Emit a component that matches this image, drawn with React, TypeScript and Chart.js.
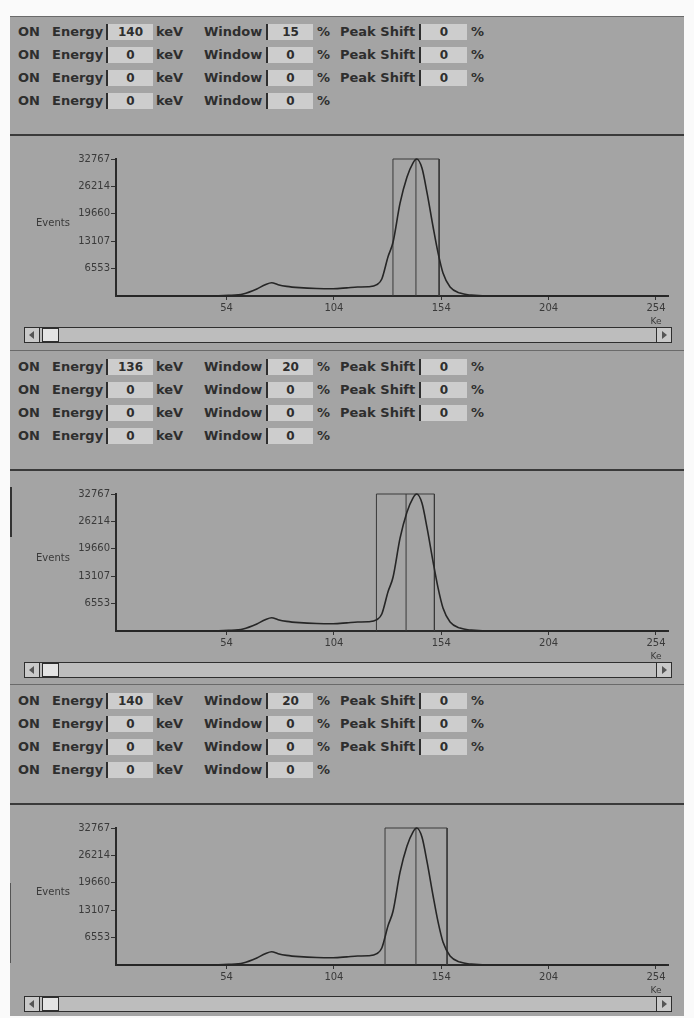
import React, { useEffect, useRef } from "react";
import { Chart, registerables } from "chart.js";
Chart.register(...registerables);

// ---- data ----
const spectrumKeV = [3, 45, 55, 61.7, 68.1, 72, 75, 78, 82, 88, 96, 103.6, 110, 115, 120, 124, 126.3, 129.2, 131.5, 134.8, 138, 140.8, 142.5, 145, 147.4, 150.2, 152.5, 154.8, 158.1, 162.7, 168, 175, 259];
const spectrumCounts = [0, 0, 150, 500, 1680, 2700, 3180, 2700, 2300, 2000, 1800, 1750, 1950, 2150, 2200, 2700, 4070, 9400, 12800, 22200, 28400, 31800, 32767, 30600, 24600, 16500, 10300, 5500, 2150, 700, 200, 0, 0];

const yTickValues = [6553, 13107, 19660, 26214, 32767];
const xTickValues = [54, 104, 154, 204, 254];
const xMin = 2.5;
const xMax = 259.6;
const yMax = 32767;

// window boxes per panel (keV)
const windowLow = [131.5, 123.8, 127.8];
const windowCenter = [142.2, 137.6, 142.2];
const windowHigh = [153.0, 150.8, 156.7];

// control values per panel (4 rows each)
const energyValues = [
  ["140", "0", "0", "0"],
  ["136", "0", "0", "0"],
  ["140", "0", "0", "0"],
];
const windowValues = [
  ["15", "0", "0", "0"],
  ["20", "0", "0", "0"],
  ["20", "0", "0", "0"],
];
const peakShiftValues = [
  ["0", "0", "0"],
  ["0", "0", "0"],
  ["0", "0", "0"],
];

const panelOffsets = [0, 335, 669];

const BG = "#a4a4a4";
const FIELD = "#cdcdcd";
const INK = "#2e2e2e";
const FONT = '"DejaVu Sans", sans-serif';

const axisTextPlugin = {
  id: "axisTexts",
  afterDraw(chart: any) {
    const { ctx, chartArea, scales } = chart;
    ctx.save();
    ctx.font = '10px "DejaVu Sans"';
    ctx.fillStyle = "#3a3a3a";
    ctx.textAlign = "left";
    ctx.textBaseline = "middle";
    ctx.fillText("Events", chartArea.left - 80, (chartArea.top + chartArea.bottom) / 2 - 4);
    ctx.font = '9px "DejaVu Sans"';
    ctx.textAlign = "center";
    ctx.fillText("Ke", scales.x.getPixelForValue(254), chartArea.bottom + 26);
    ctx.restore();
  },
};

function SpectrumChart({ idx }: { idx: number }) {
  const ref = useRef<HTMLCanvasElement>(null);
  useEffect(() => {
    if (!ref.current) return;
    const spectrum = spectrumKeV.map((x, i) => ({ x, y: spectrumCounts[i] }));
    const box = [
      { x: windowLow[idx], y: 0 },
      { x: windowLow[idx], y: yMax },
      { x: windowHigh[idx], y: yMax },
      { x: windowHigh[idx], y: 0 },
    ];
    const center = [
      { x: windowCenter[idx], y: 0 },
      { x: windowCenter[idx], y: yMax },
    ];
    const chart = new Chart(ref.current, {
      type: "line",
      data: {
        datasets: [
          {
            data: spectrum,
            borderColor: "#262626",
            borderWidth: 1.6,
            pointRadius: 0,
            cubicInterpolationMode: "monotone",
            fill: false,
            clip: false as any,
          },
          {
            data: box,
            borderColor: "#3a3a3a",
            borderWidth: 1,
            pointRadius: 0,
            tension: 0,
            fill: false,
            clip: false as any,
          },
          {
            data: center,
            borderColor: "#3a3a3a",
            borderWidth: 1,
            pointRadius: 0,
            tension: 0,
            fill: false,
            clip: false as any,
          },
        ],
      },
      options: {
        animation: false,
        responsive: false,
        maintainAspectRatio: false,
        layout: { padding: { top: 19, right: 16, left: 0, bottom: 0 } },
        plugins: { legend: { display: false }, tooltip: { enabled: false } },
        scales: {
          x: {
            type: "linear",
            min: xMin,
            max: xMax,
            afterBuildTicks: (s: any) => {
              s.ticks = xTickValues.map((v) => ({ value: v }));
            },
            afterFit: (s: any) => {
              s.height = 30;
            },
            border: { display: true, color: "#2a2a2a", width: 2 },
            grid: { display: true, drawOnChartArea: false, drawTicks: true, tickLength: 4, color: "#333" },
            ticks: {
              autoSkip: false,
              maxRotation: 0,
              padding: 2,
              color: "#3a3a3a",
              font: { family: "DejaVu Sans", size: 10 },
            },
          },
          y: {
            type: "linear",
            min: 0,
            max: yMax,
            afterBuildTicks: (s: any) => {
              s.ticks = yTickValues.map((v) => ({ value: v }));
            },
            afterFit: (s: any) => {
              s.width = 106;
            },
            border: { display: true, color: "#2a2a2a", width: 2 },
            grid: { display: true, drawOnChartArea: false, drawTicks: true, tickLength: 5, color: "#333" },
            ticks: {
              autoSkip: false,
              padding: 1,
              color: "#3a3a3a",
              font: { family: "DejaVu Sans", size: 10 },
              callback: (v: any) => String(v),
            },
          },
        },
      },
      plugins: [axisTextPlugin],
    });
    return () => chart.destroy();
  }, [idx]);
  return <canvas ref={ref} width={674} height={186} style={{ position: "absolute", left: 10, top: 140 + panelOffsets[idx], width: 674, height: 186 }} />;
}

function Txt({ x, y, children }: { x: number; y: number; children: any }) {
  return (
    <div style={{ position: "absolute", left: x, top: y - 8, height: 16, lineHeight: "16px", fontFamily: FONT, fontWeight: "bold", fontSize: 13, color: INK, whiteSpace: "nowrap" }}>
      {children}
    </div>
  );
}

function Field({ x, y, w, value }: { x: number; y: number; w: number; value: string }) {
  return (
    <div style={{ position: "absolute", left: x, top: y - 8, width: w, height: 16, lineHeight: "16px", background: FIELD, borderLeft: `2px solid ${INK}`, boxSizing: "border-box", textAlign: "center", fontFamily: FONT, fontWeight: "bold", fontSize: 12, color: INK }}>
      {value}
    </div>
  );
}

function Scrollbar({ y }: { y: number }) {
  const arrowStyle: any = { position: "absolute", top: 0, width: 15, height: 14, boxSizing: "border-box" };
  return (
    <div style={{ position: "absolute", left: 24, top: y, width: 648, height: 16, border: `1px solid ${INK}`, boxSizing: "border-box", background: "#bdbdbd" }}>
      <div style={{ ...arrowStyle, left: 0, borderRight: `1px solid ${INK}`, background: "#c9c9c9" }}>
        <div style={{ position: "absolute", left: 4, top: 3, width: 0, height: 0, borderTop: "4px solid transparent", borderBottom: "4px solid transparent", borderRight: `5px solid #555` }} />
      </div>
      <div style={{ position: "absolute", left: 17, top: 0, width: 17, height: 14, border: `1px solid ${INK}`, boxSizing: "border-box", background: "#e4e4e4" }} />
      <div style={{ ...arrowStyle, right: 0, borderLeft: `1px solid ${INK}`, background: "#c9c9c9" }}>
        <div style={{ position: "absolute", left: 5, top: 3, width: 0, height: 0, borderTop: "4px solid transparent", borderBottom: "4px solid transparent", borderLeft: `5px solid #555` }} />
      </div>
    </div>
  );
}

function Panel({ idx }: { idx: number }) {
  const oy = panelOffsets[idx];
  const rows = [0, 1, 2, 3];
  return (
    <>
      {idx > 0 && <div style={{ position: "absolute", left: 10, top: oy + 15, width: 674, height: 1, background: "#6a6a6a" }} />}
      {rows.map((r) => {
        const y = oy + 32 + r * 23;
        return (
          <React.Fragment key={r}>
            <Txt x={18} y={y}>ON</Txt>
            <Txt x={52} y={y}>Energy</Txt>
            <Field x={106} y={y} w={47} value={energyValues[idx][r]} />
            <Txt x={156} y={y}>keV</Txt>
            <Txt x={204} y={y}>Window</Txt>
            <Field x={266} y={y} w={47} value={windowValues[idx][r]} />
            <Txt x={317} y={y}>%</Txt>
            {r < 3 && (
              <>
                <Txt x={340} y={y}>Peak Shift</Txt>
                <Field x={419} y={y} w={48} value={peakShiftValues[idx][r]} />
                <Txt x={471} y={y}>%</Txt>
              </>
            )}
          </React.Fragment>
        );
      })}
      <div style={{ position: "absolute", left: 10, top: oy + 134, width: 674, height: 2, background: "#3a3a3a" }} />
      <SpectrumChart idx={idx} />
      <Scrollbar y={oy + 327} />
    </>
  );
}

export default function App() {
  useEffect(() => {
    document.body.style.margin = "0";
    document.body.style.background = "#ffffff";
  }, []);
  return (
    <div style={{ position: "relative", width: 694, height: 1018, background: "#fafafa", overflow: "hidden" }}>
      <div style={{ position: "absolute", left: 10, top: 16, width: 674, height: 1000, background: BG, borderTop: "1px solid #6a6a6a", boxSizing: "border-box" }} />
      <div style={{ position: "absolute", left: 10, top: 487, width: 2, height: 50, background: "#333" }} />
      <div style={{ position: "absolute", left: 10, top: 883, width: 1, height: 80, background: "#555" }} />
      {[0, 1, 2].map((i) => (
        <Panel key={i} idx={i} />
      ))}
    </div>
  );
}
